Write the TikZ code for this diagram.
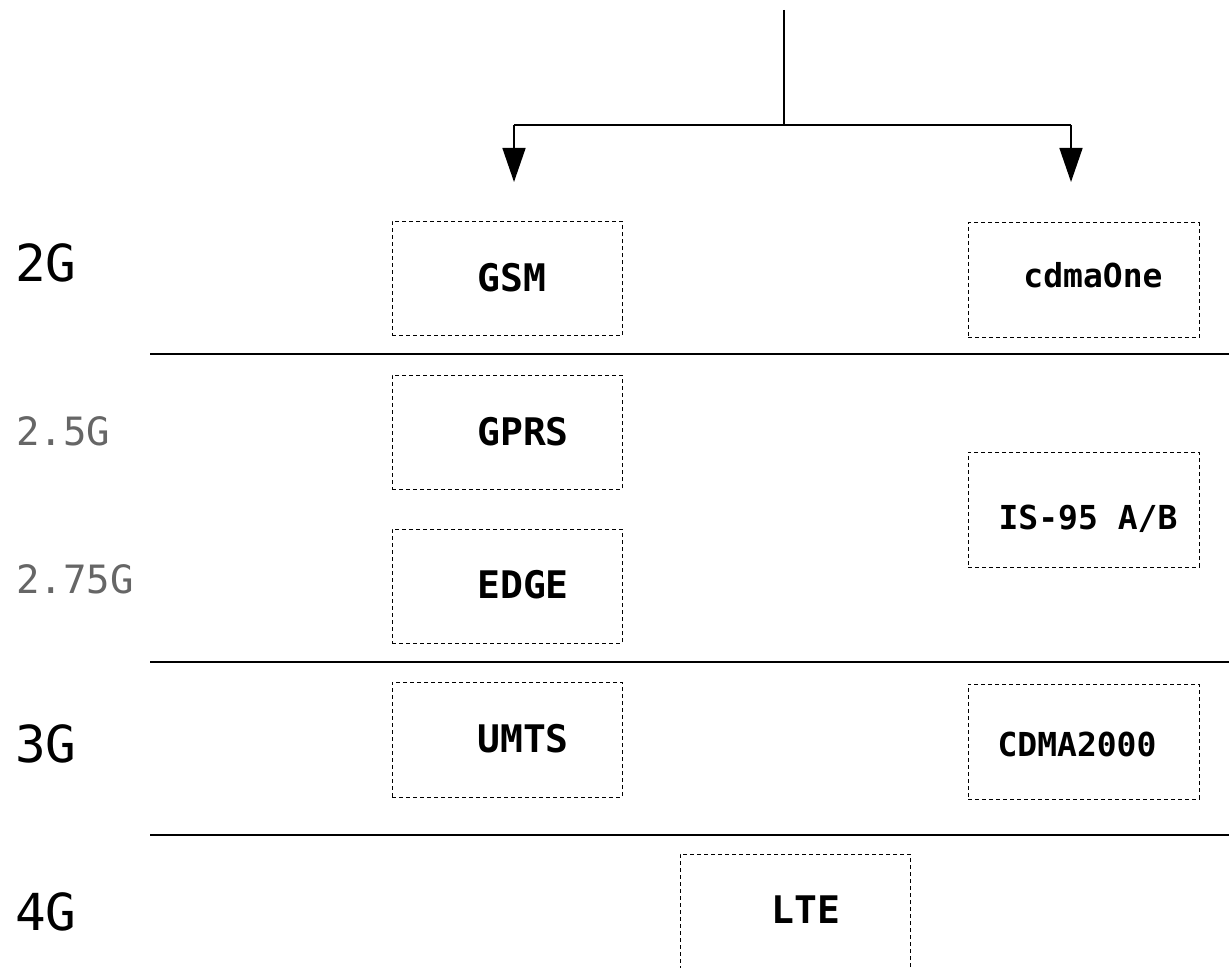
\documentclass[tikz,border=0pt]{standalone}
\usepackage{fontspec}
\setmonofont{DejaVu Sans Mono}
\usetikzlibrary{arrows.meta}
\definecolor{labgray}{HTML}{666666}
\begin{document}
\begin{tikzpicture}[x=1pt,y=-1pt,
  sepline/.style={line width=2pt},
  tree/.style={line width=2.2pt},
  stub/.style={line width=1.5pt,-{Triangle[length=34pt,width=23pt]}},
  techbox/.style={draw,rectangle,line width=1pt,dash pattern=on 4pt off 3pt,inner sep=0pt,minimum width=230pt,minimum height=114pt},
  gen/.style={anchor=base west,inner sep=0pt,font=\ttfamily\fontsize{51}{51}\selectfont},
  subgen/.style={anchor=base west,inner sep=0pt,text=labgray,font=\ttfamily\fontsize{39}{39}\selectfont},
  lefttech/.style={anchor=base,inner sep=0pt,font=\ttfamily\bfseries\fontsize{38}{38}\selectfont},
  righttech/.style={anchor=base,inner sep=0pt,font=\ttfamily\bfseries\fontsize{33}{33}\selectfont}]
\clip (0,0) rectangle (1229,968);
\fill[white] (0,0) rectangle (1229,968);

% tree connector
\coordinate (root) at (784,10);
\coordinate (junc) at (784,125);
\coordinate (tipL) at (514,182);
\coordinate (tipR) at (1071,182);
\coordinate (cornL) at (514,125);
\coordinate (cornR) at (1071,125);
\draw[tree] (root) -- (junc);
\draw[tree] (cornL) -- (cornR);
\draw[stub] (cornL) -- (tipL);
\draw[stub] (cornR) -- (tipR);

% separators
\coordinate (s1a) at (150,354); \coordinate (s1b) at (1229,354);
\coordinate (s2a) at (150,662); \coordinate (s2b) at (1229,662);
\coordinate (s3a) at (150,835); \coordinate (s3b) at (1229,835);
\draw[sepline] (s1a) -- (s1b);
\draw[sepline] (s2a) -- (s2b);
\draw[sepline] (s3a) -- (s3b);

% generation labels
\node[gen] (g2) at (15,282) {2G};
\node[subgen] (g25) at (16,445) {2.5G};
\node[subgen] (g275) at (16,593) {2.75G};
\node[gen] (g3) at (15,762) {3G};
\node[gen] (g4) at (15,930) {4G};

% boxes
\node[techbox] (bGSM) at (507,278.5) {};
\node[techbox,minimum width=231pt,minimum height=115pt] (bOne) at (1083.5,280.5) {};
\node[techbox] (bGPRS) at (507,432) {};
\node[techbox] (bEDGE) at (507,586) {};
\node[techbox,minimum width=231pt,minimum height=115pt] (bIS) at (1083.5,509.5) {};
\node[techbox,minimum height=115pt] (bUMTS) at (507,739.5) {};
\node[techbox,minimum width=231pt,minimum height=115pt] (bCDMA) at (1083.5,741.5) {};
\node[techbox] (bLTE) at (795,911) {};

% box texts
\node[lefttech] (tGSM) at (512,292) {GSM};
\node[righttech] (tOne) at (1093,288) {cdmaOne};
\node[lefttech] (tGPRS) at (523,445) {GPRS};
\node[lefttech] (tEDGE) at (523,598) {EDGE};
\node[righttech] (tIS) at (1088,529) {IS-95 A/B};
\node[lefttech] (tUMTS) at (523,752) {UMTS};
\node[righttech] (tCDMA) at (1077,756) {CDMA2000};
\node[lefttech] (tLTE) at (806,923) {LTE};
\end{tikzpicture}
\end{document}
